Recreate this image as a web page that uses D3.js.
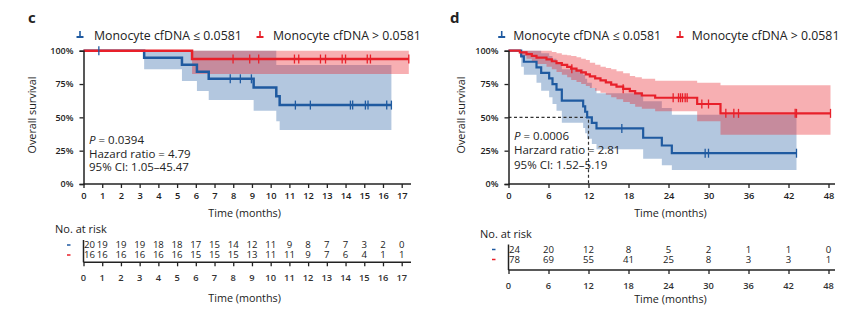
<!DOCTYPE html>
<html><head><meta charset="utf-8">
<script src="https://cdn.jsdelivr.net/npm/d3@7"></script>
<style>body{margin:0;background:#fff}svg{display:block}text{font-family:'Open Sans',sans-serif;fill:#222}</style>
</head><body>
<svg id="chart" width="865" height="314"></svg>
<script>
// ---------- Panel c (months 0-17) ----------
const cTicks = [0,1,2,3,4,5,6,7,8,9,10,11,12,13,14,15,16,17];
const cLowTimes = [0, 3.24, 5.26, 6.06, 6.69, 9.09, 10.3, 10.48, 16.45];
const cLowSurv  = [1, 0.947, 0.895, 0.842, 0.789, 0.724, 0.658, 0.592, 0.592];
const cLowLower = [1, 0.86, 0.773, 0.698, 0.63, 0.55, 0.47, 0.405, 0.405];
const cLowUpper = [1, 1, 1, 1, 1, 1, 0.893, 0.893, 0.893];
const cLowCens  = [0.82, 7.84, 8.38, 8.97, 11.32, 12.12, 14.26, 14.38, 15.06, 15.2, 16.2, 16.45];
const cHighTimes = [0, 5.8, 17.38];
const cHighSurv  = [1, 0.9375, 0.9375];
const cHighLower = [1, 0.825, 0.825];
const cHighUpper = [1, 1, 1];
const cHighCens  = [7.99, 8.88, 9.36, 11.27, 11.5, 12.66, 12.93, 13.82, 14.0, 15.16, 15.33, 17.38];
const cRiskLow  = [20,19,19,19,18,18,17,15,14,12,11,9,8,7,7,3,2,0];
const cRiskHigh = [16,16,16,16,16,16,15,15,15,13,11,11,9,7,6,4,1,1];
const cStats = ["P = 0.0394", "Hazard ratio = 4.79", "95% CI: 1.05–45.47"];

// ---------- Panel d (months 0-48) ----------
const dTicks = [0, 6, 12, 18, 24, 30, 36, 42, 48];
const dLowTimes = [0, 1.9, 2.3, 4.2, 4.9, 6.1, 6.6, 7.2, 8.0, 11.2, 11.5, 11.8, 12.5, 13.2, 20.2, 23.0, 24.5, 43.2];
const dLowSurv  = [1, 0.958, 0.917, 0.875, 0.833, 0.792, 0.75, 0.708, 0.625, 0.583, 0.542, 0.5, 0.458, 0.417, 0.347, 0.289, 0.231, 0.231];
const dLowLower = [1, 0.88, 0.82, 0.76, 0.70, 0.65, 0.60, 0.55, 0.46, 0.42, 0.38, 0.34, 0.30, 0.26, 0.19, 0.14, 0.105, 0.105];
const dLowUpper = [1, 1, 1, 1, 0.98, 0.96, 0.94, 0.91, 0.86, 0.82, 0.79, 0.76, 0.72, 0.68, 0.62, 0.57, 0.52, 0.52];
const dLowCens  = [17.0, 29.5, 30.0, 43.2];
const dHighTimes = [0, 1.7, 2.7, 3.5, 4.2, 5.7, 6.5, 7.2, 8.0, 8.8, 9.4, 10.2, 10.9, 11.6, 12.2, 13.0, 13.8, 14.6, 15.4, 16.2, 17.2, 18.2, 19.0, 20.0, 22.0, 28.3, 31.8, 48.3];
const dHighSurv  = [1, 0.987, 0.974, 0.961, 0.948, 0.935, 0.921, 0.907, 0.893, 0.879, 0.865, 0.851, 0.837, 0.822, 0.807, 0.792, 0.777, 0.762, 0.746, 0.73, 0.714, 0.697, 0.68, 0.664, 0.647, 0.60, 0.53, 0.53];
const dHighLower = [1, 0.96, 0.94, 0.92, 0.90, 0.88, 0.86, 0.84, 0.82, 0.80, 0.78, 0.765, 0.75, 0.735, 0.72, 0.70, 0.685, 0.67, 0.65, 0.635, 0.615, 0.60, 0.58, 0.565, 0.545, 0.47, 0.37, 0.37];
const dHighUpper = [1, 1, 1, 1, 1, 1, 0.99, 0.98, 0.97, 0.965, 0.96, 0.95, 0.94, 0.93, 0.91, 0.895, 0.88, 0.87, 0.86, 0.845, 0.83, 0.81, 0.80, 0.79, 0.775, 0.76, 0.74, 0.74];
const dHighCens  = [9.5, 17.2, 24.7, 25.5, 25.8, 26.1, 26.5, 26.8, 29.0, 30.0, 32.6, 33.8, 34.5, 43.0, 43.2, 48.3];
const dRiskLow  = [24,20,12,8,5,2,1,1,0];
const dRiskHigh = [78,69,55,41,25,8,3,3,1];
const dStats = ["P = 0.0006", "Harzard ratio = 2.81", "95% CI: 1.52–5.19"];

const yTicks = [0, 0.25, 0.5, 0.75, 1];
const legendLabels = ["Monocyte cfDNA ≤ 0.0581", "Monocyte cfDNA > 0.0581"];
const BLUE = "#1f5aa0", RED = "#e8202a";

const svg = d3.select("#chart");

function series(times, surv, lo, hi){
  return times.map((t,i)=>({t, s:surv[i], lo:lo[i], hi:hi[i]}));
}

function styleAxis(a, fs){
  a.select(".domain").attr("stroke", "#222").attr("stroke-width", 1.5);
  a.selectAll(".tick line").attr("stroke", "#222").attr("stroke-width", 1.3);
  a.selectAll(".tick text").attr("font-family", "'Open Sans',sans-serif").attr("font-weight", 600)
    .attr("fill", "#333").attr("font-size", fs);
}

function panel(o){
  const g = svg.append("g");
  const x = d3.scaleLinear().domain([0, o.xMax]).range([o.x0, o.x1]);
  const y = d3.scaleLinear().domain([0, 1]).range([184, 50.7]);

  g.append("text").attr("x", o.letterX).attr("y", 23).attr("font-size", 15).attr("font-weight", 700).text(o.letter);
  [[BLUE, o.leg[0], o.leg[1]], [RED, o.leg[2], o.leg[3]]].forEach((L, i) => {
    const lg = g.append("g");
    lg.append("line").attr("x1", L[1]-3.5).attr("x2", L[1]+3.5).attr("y1", 37).attr("y2", 37).attr("stroke", L[0]).attr("stroke-width", 2);
    lg.append("line").attr("x1", L[1]).attr("x2", L[1]).attr("y1", 31).attr("y2", 37.5).attr("stroke", L[0]).attr("stroke-width", 1.6);
    lg.append("text").attr("x", L[2]).attr("y", 39.5).attr("font-size", 12.3).text(legendLabels[i]);
  });

  const low = series(o.lowT, o.lowS, o.lowL, o.lowU);
  const high = series(o.highT, o.highS, o.highL, o.highU);
  const area = d3.area().curve(d3.curveStepAfter).x(d=>x(d.t)).y0(d=>y(d.lo)).y1(d=>y(d.hi));
  const line = d3.line().curve(d3.curveStepAfter).x(d=>x(d.t)).y(d=>y(d.s));
  g.append("path").datum(low.slice(1)).attr("d", area).attr("fill", BLUE).attr("fill-opacity", 0.34);
  g.append("path").datum(high.slice(1)).attr("d", area).attr("fill", RED).attr("fill-opacity", 0.36);

  if (o.median) {
    g.append("path").attr("d", `M${x(0)},${y(0.5)}H${x(o.median)}V${y(0)}`)
      .attr("fill", "none").attr("stroke", "#333").attr("stroke-width", 1.2).attr("stroke-dasharray", "3,2.5");
  }

  g.append("path").datum(low).attr("d", line).attr("fill", "none").attr("stroke", BLUE).attr("stroke-width", o.lw);
  g.append("path").datum(high).attr("d", line).attr("fill", "none").attr("stroke", RED).attr("stroke-width", o.lw);

  function survAt(ser, t){ let v = ser[0].s; ser.forEach(d=>{ if (d.t <= t) v = d.s; }); return v; }
  [[o.lowC, low, BLUE], [o.highC, high, RED]].forEach(([cens, ser, col]) => {
    g.selectAll(null).data(cens).enter().append("line")
      .attr("x1", d=>x(d)).attr("x2", d=>x(d))
      .attr("y1", d=>y(survAt(ser, d))-4.5).attr("y2", d=>y(survAt(ser, d))+4.5)
      .attr("stroke", col).attr("stroke-width", 1.3);
  });

  // main axes
  const xg = g.append("g").attr("transform", "translate(0,184)")
    .call(d3.axisBottom(x).tickValues(o.ticks).tickSize(4).tickPadding(4).tickFormat(d3.format("d")));
  xg.select(".domain").attr("d", `M${o.x0},0H${o.xEnd}`);
  styleAxis(xg, 9.3);
  const yg = g.append("g").attr("transform", `translate(${o.x0},0)`)
    .call(d3.axisLeft(y).tickValues(yTicks).tickSize(4).tickPadding(6).tickFormat(d3.format(".0%")));
  styleAxis(yg, 9);

  g.append("text").attr("transform", `translate(${o.ylabX},115) rotate(-90)`).attr("text-anchor", "middle").attr("font-size", 10.8).text("Overall survival");
  g.append("text").attr("x", (o.x0+o.x1)/2+2).attr("y", 216.5).attr("text-anchor", "middle").attr("font-size", 10.8).text("Time (months)");

  o.stats.forEach((s, i) => {
    const t = g.append("text").attr("x", o.x0+5.5).attr("y", o.statY[i]).attr("font-size", 11.5);
    if (i === 0) { t.append("tspan").attr("font-style", "italic").text("P"); t.append("tspan").text(s.slice(1)); }
    else t.text(s);
  });

  // risk table
  const rt = o.rt;
  g.append("text").attr("x", o.x0-28.5).attr("y", rt.title).attr("font-size", 11).text("No. at risk");
  [[BLUE, rt.row1], [RED, rt.row2]].forEach(([c, yy]) => {
    g.append("line").attr("x1", o.x0-16.5).attr("x2", o.x0-13).attr("y1", yy).attr("y2", yy).attr("stroke", c).attr("stroke-width", 1.5);
  });
  [[o.riskLow, rt.row1], [o.riskHigh, rt.row2]].forEach(([vals, yy]) => {
    g.selectAll(null).data(vals).enter().append("text")
      .attr("x", (d,i) => i === 0 ? x(0)+0.5 : x(o.ticks[i]))
      .attr("y", yy+3.4).attr("font-size", 9.6)
      .attr("text-anchor", (d,i) => i === 0 ? "start" : "middle").text(d=>d);
  });
  g.append("line").attr("x1", x(0)).attr("x2", x(0)).attr("y1", rt.row1-5).attr("y2", rt.axis).attr("stroke", "#222").attr("stroke-width", 1.5);
  const rg = g.append("g").attr("transform", `translate(0,${rt.axis})`)
    .call(d3.axisBottom(x).tickValues(o.ticks).tickSize(4).tickFormat(""));
  rg.select(".domain").attr("d", `M${o.x0},0H${o.xEnd}`);
  styleAxis(rg, 9);
  g.append("g").selectAll("text").data(o.ticks).enter().append("text")
    .attr("x", d => x(d)).attr("y", rt.axis + 19)
    .attr("text-anchor", "middle").attr("font-size", 9.3).attr("font-weight", 600)
    .style("fill", "#333").text(d => String(d));
  g.append("text").attr("x", (o.x0+o.x1)/2+2).attr("y", rt.xtitle).attr("text-anchor", "middle").attr("font-size", 10.8).text("Time (months)");
}

panel({
  letter: "c", letterX: 28, leg: [80, 94, 260, 273], ylabX: 36,
  xMax: 17, x0: 83.5, x1: 401.7, xEnd: 411, ticks: cTicks, lw: 2.5,
  lowT: cLowTimes, lowS: cLowSurv, lowL: cLowLower, lowU: cLowUpper, lowC: cLowCens,
  highT: cHighTimes, highS: cHighSurv, highL: cHighLower, highU: cHighUpper, highC: cHighCens,
  stats: cStats, statY: [144, 157.7, 171],
  riskLow: cRiskLow, riskHigh: cRiskHigh,
  rt: {title: 232.5, row1: 245, row2: 255, axis: 262.3, xtitle: 301.5}
});
panel({
  letter: "d", letterX: 450, leg: [501.7, 513.3, 680, 691.7], ylabX: 465,
  xMax: 48, x0: 508.5, x1: 828.5, xEnd: 835, ticks: dTicks, lw: 2.2, median: 12,
  lowT: dLowTimes, lowS: dLowSurv, lowL: dLowLower, lowU: dLowUpper, lowC: dLowCens,
  highT: dHighTimes, highS: dHighSurv, highL: dHighLower, highU: dHighUpper, highC: dHighCens,
  stats: dStats, statY: [139.5, 154, 169],
  riskLow: dRiskLow, riskHigh: dRiskHigh,
  rt: {title: 237.5, row1: 249.5, row2: 259.5, axis: 270, xtitle: 303}
});
</script>
</body></html>
